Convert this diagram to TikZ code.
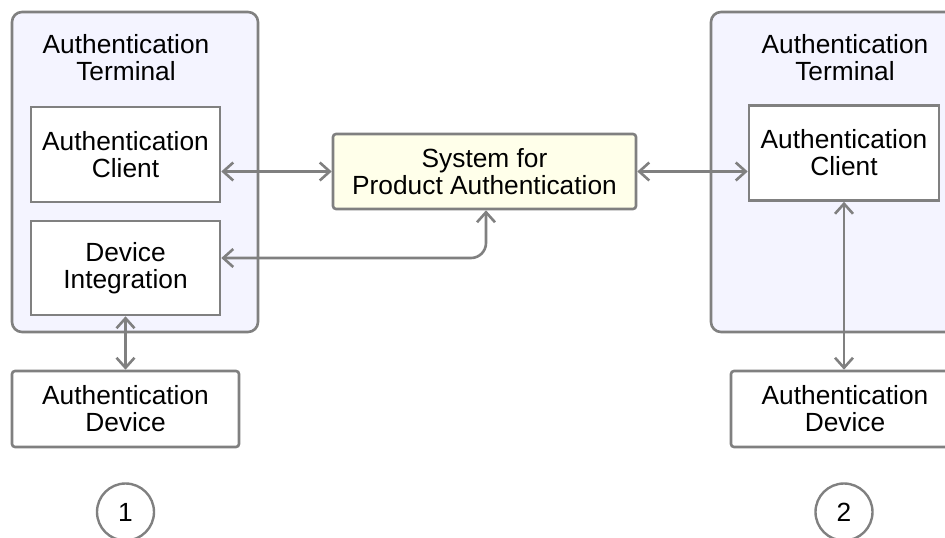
\documentclass[tikz,border=0pt]{standalone}
\usepackage{fontspec}
\setmainfont{Liberation Sans}
\usetikzlibrary{arrows.meta,calc}

\definecolor{edgegray}{RGB}{128,128,128}
\definecolor{termfill}{RGB}{244,244,255}
\definecolor{sysfill}{RGB}{255,255,234}

\begin{document}
\begin{tikzpicture}[x=1pt,y=-1pt,
  every node/.style={font=\fontsize{26.3}{27}\selectfont, align=center, inner sep=0pt},
  terminal/.style={draw=edgegray, line width=2.6pt, fill=termfill, rounded corners=10pt},
  compbox/.style={draw=edgegray, line width=2.6pt, fill=white},
  devbox/.style={draw=edgegray, line width=2.6pt, fill=white, rounded corners=3pt},
  sysbox/.style={draw=edgegray, line width=2.6pt, fill=sysfill, rounded corners=3pt},
  marker/.style={draw=edgegray, line width=2.4pt, circle, minimum size=57pt},
  conn/.style={draw=edgegray, line width=2.6pt,
    {Straight Barb[length=10pt,width=18pt]}-{Straight Barb[length=10pt,width=18pt]}},
]
\useasboundingbox (0,0) rectangle (945,538);

% terminal containers
\draw[terminal] (12,12) rectangle (258,332);
\draw[terminal] (711,12) rectangle (979,332);
\node (ltitle) at (126,58) {Authentication\\Terminal};
\node (rtitle) at (845,58) {Authentication\\Terminal};

% components
\node[compbox, minimum width=189pt, minimum height=95pt] (lclient) at (125.5,154.5) {Authentication\\Client};
\node[compbox, minimum width=189pt, minimum height=94pt] (integ) at (125.5,268) {Device\\Integration};
\node[compbox, minimum width=190pt, minimum height=95pt] (rclient) at (844,153) {Authentication\\Client};

\node[devbox, minimum width=227pt, minimum height=76pt] (ldev) at (125.5,409) {Authentication\\Device};
\node[devbox, minimum width=228pt, minimum height=76pt] (rdev) at (845,409) {Authentication\\Device};

\node[sysbox, minimum width=303pt, minimum height=75pt] (sys) at (484.5,171.5) {System for\\Product Authentication};

% numbered markers
\node[marker] (m1) at (125.5,512) {1};
\node[marker] (m2) at (844,512) {2};

% connectors
\draw[conn] (lclient.east |- sys.west) -- (sys.west);
\draw[conn] (sys.east) -- (sys.east -| rclient.west);
\draw[conn, rounded corners=15pt] ([yshift=10pt]integ.east) -| ([xshift=1.5pt]sys.south);
\draw[conn] (integ.south) -- (ldev.north);
\draw[conn] (rclient.south) -- (rclient.south |- rdev.north);
\end{tikzpicture}
\end{document}
